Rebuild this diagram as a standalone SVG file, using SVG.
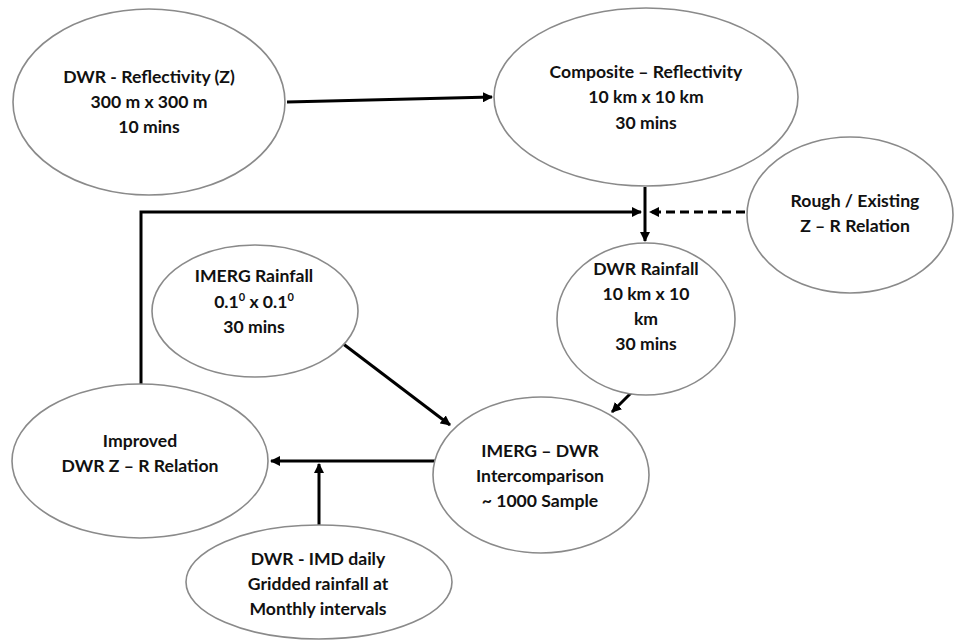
<svg xmlns="http://www.w3.org/2000/svg" width="954" height="642" viewBox="0 0 954 642">
<defs>
<marker id="ah" viewBox="0 0 10 10" refX="9" refY="5" markerWidth="3.4" markerHeight="3.4" orient="auto" markerUnits="strokeWidth">
<path d="M0,0 L10,5 L0,10 Z" fill="#000"/>
</marker>
<style>
.n{fill:#fff;stroke:#8a8a8a;stroke-width:1.6}
.t{font-family:Lato,"Liberation Sans",sans-serif;font-weight:bold;font-size:17.6px;fill:#111;text-anchor:middle}
.c{stroke:#000;stroke-width:3;fill:none}
.d{stroke:#000;stroke-width:3;fill:none;stroke-dasharray:9,5}
</style>
</defs>
<rect width="954" height="642" fill="#fff"/>
<g id="connectors">
<line class="c" x1="287" y1="102" x2="492" y2="97" marker-end="url(#ah)"/>
<line class="c" x1="645" y1="187" x2="645" y2="241" marker-end="url(#ah)"/>
<polyline class="c" points="141,384 141,212 641,212" marker-end="url(#ah)"/>
<line class="d" x1="745" y1="212" x2="650" y2="212" marker-end="url(#ah)"/>
<line class="c" x1="342" y1="343" x2="450" y2="425" marker-end="url(#ah)"/>
<line class="c" x1="632" y1="392" x2="612" y2="412" marker-end="url(#ah)"/>
<line class="c" x1="435" y1="461" x2="271" y2="461" marker-end="url(#ah)"/>
<line class="c" x1="319" y1="525" x2="319" y2="464" marker-end="url(#ah)"/>
</g>
<g id="dwr-reflectivity">
<ellipse class="n" cx="149" cy="102" rx="136" ry="93"/>
<text class="t" x="149" y="83">DWR - Reflectivity (Z)</text>
<text class="t" x="149" y="108">300 m x 300 m</text>
<text class="t" x="149" y="133">10 mins</text>
</g>
<g id="composite-reflectivity">
<ellipse class="n" cx="646" cy="97" rx="152" ry="89"/>
<text class="t" x="646" y="78">Composite – Reflectivity</text>
<text class="t" x="646" y="103">10 km x 10 km</text>
<text class="t" x="646" y="129">30 mins</text>
</g>
<g id="rough-existing">
<ellipse class="n" cx="850" cy="215" rx="103" ry="78"/>
<text class="t" x="855" y="207">Rough / Existing</text>
<text class="t" x="855" y="232">Z – R Relation</text>
</g>
<g id="dwr-rainfall">
<ellipse class="n" cx="646" cy="319" rx="89" ry="76"/>
<text class="t" x="646" y="275">DWR Rainfall</text>
<text class="t" x="646" y="300">10 km x 10</text>
<text class="t" x="646" y="325">km</text>
<text class="t" x="646" y="350">30 mins</text>
</g>
<g id="imerg-rainfall">
<ellipse class="n" cx="255" cy="311" rx="103" ry="66"/>
<text class="t" x="254" y="282">IMERG Rainfall</text>
<text class="t" x="254" y="308">0.1<tspan font-size="11" dy="-7">0</tspan><tspan dy="7"> x 0.1</tspan><tspan font-size="11" dy="-7">0</tspan></text>
<text class="t" x="254" y="333">30 mins</text>
</g>
<g id="improved-relation">
<ellipse class="n" cx="140" cy="461" rx="128" ry="77"/>
<text class="t" x="140" y="447">Improved</text>
<text class="t" x="140" y="472">DWR Z – R Relation</text>
</g>
<g id="imerg-dwr">
<ellipse class="n" cx="541" cy="475" rx="108" ry="78"/>
<text class="t" x="540" y="457">IMERG – DWR</text>
<text class="t" x="540" y="482">Intercomparison</text>
<text class="t" x="540" y="507">~ 1000 Sample</text>
</g>
<g id="dwr-imd">
<ellipse class="n" cx="319" cy="582" rx="133" ry="57"/>
<text class="t" x="318" y="565">DWR - IMD daily</text>
<text class="t" x="318" y="590">Gridded rainfall at</text>
<text class="t" x="318" y="615">Monthly intervals</text>
</g>
</svg>
